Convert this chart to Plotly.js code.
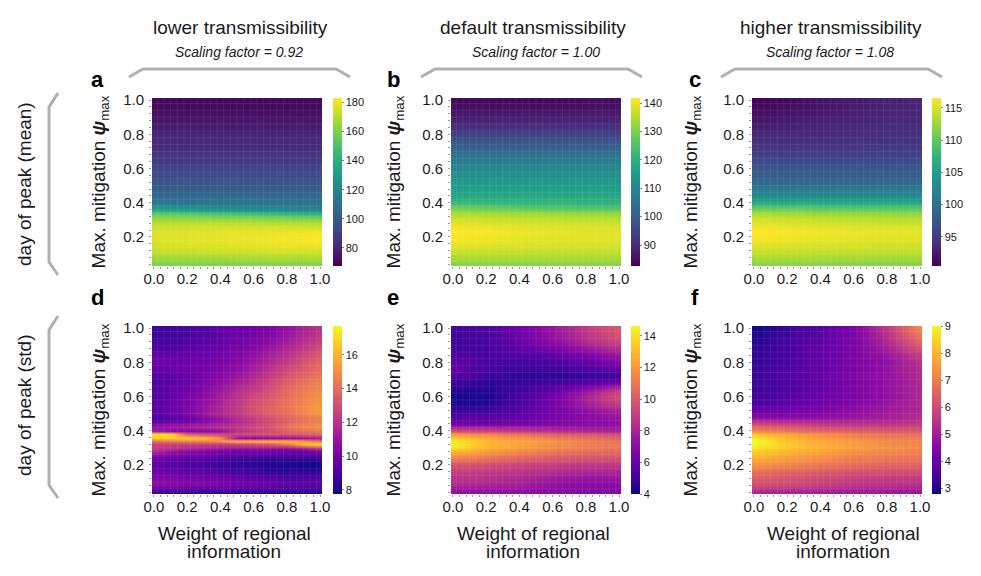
<!DOCTYPE html>
<html>
<head>
<meta charset="utf-8">
<script src="https://cdn.plot.ly/plotly-3.0.1.min.js"></script>
<style>html,body{margin:0;padding:0;background:#fff}</style>
</head>
<body>
<div id="chart" style="width:981px;height:576px"></div>
<script>
// Weight of regional information (x) and max. mitigation (y)
const xCoarse=[0,0.2,0.4,0.6,0.8,1];
const xFine=[0,0.1,0.2,0.3,0.4,0.5,0.6,0.7,0.8,0.9,1];
const yCoarse=[1,.96,.92,.88,.84,.8,.76,.72,.68,.64,.6,.56,.52,.48,.44,.42,.4,.38,.36,.34,.32,.3,.28,.24,.2,.16,.12,.08,.04];
const yFine=[1,.96,.92,.88,.84,.8,.76,.72,.68,.64,.6,.56,.52,.5,.48,.46,.44,.42,.4,.38,.36,.34,.32,.3,.28,.26,.24,.22,.2,.16,.12,.08,.04];

// day of peak (mean)
const zA=[
[70,70,70,70,70,70],
[71,71,71,71,71,71],
[73,73,73,73,73,73],
[75,75,75,75,75,75],
[77,77,77,77,77,77],
[79,79,79,79,79,79],
[81,81,81,81,81,81],
[83,83,83,83,83,83],
[86,86,86,86,86,86],
[88,88,88,88,88,88],
[91,91,91,91,91,91],
[94,94,94,94,94,94],
[98,98,98,98,98,98],
[102,102,102,102,102,102],
[107,107,107,107,107,107],
[110,110,110,110,109,109],
[114,114,113,113,112,112],
[124,121,119,117,116,115],
[138,134,130,126,124,122],
[152,150,147,144,142,138],
[160,159,158,157,155,153],
[166,166,165,165,163,162],
[172,172,172,172,171,170],
[176,177,178,178,179,179],
[177,178,179,180,182,183],
[176,177,178,179,180,181],
[173,174,175,175,176,176],
[167,168,168,169,169,169],
[160,160,160,161,161,161]];

const zB=[
[83.8,83.8,84,84,84.2,84.5],
[85,85,85.2,85.2,85.4,85.6],
[86.7,86.7,86.8,86.8,86.9,87],
[88.5,88.5,88.5,88.6,88.6,88.7],
[90.9,90.9,90.9,90.9,91,91],
[94.4,94.4,94.4,94.4,94.4,94.4],
[98,98,98,98,98,98],
[101.5,101.5,101.5,101.5,101.5,101.5],
[105,105,105,105,105,105],
[108,108,108,108,108,108],
[110.4,110.4,110.4,110.4,110.4,110.4],
[112.2,112.2,112.2,112.2,112.2,112.2],
[114,114,114,114,114,114],
[115.8,115.8,115.8,115.8,115.8,115.8],
[118.1,118.1,118.1,118.1,118.1,118.1],
[120,120,120,119.8,119.8,119.6],
[123,122.5,122,121.5,121,121],
[127,126,125,124.5,124,124],
[131,130,129,128.5,128,128],
[134,133.5,133,132.5,132,132],
[136,135.5,135,135,134.5,134],
[138,137.5,137,136.5,136,136],
[139.5,139,138.5,138,137.5,137.5],
[141.5,141,140,139.5,139,139],
[141.5,141,140,139.5,139.5,139.5],
[140,139.5,139,138.5,138.5,138.5],
[137.5,137,137,136.5,136.5,136.5],
[134.5,134.5,134.5,134.3,134.3,134.3],
[131,131,131,131,131,131]];

const zC=[
[90.5,91.2,91.8,92.4,92.8,93.1],
[91,91.6,92.1,92.6,93,93.2],
[91.6,92,92.4,92.8,93.1,93.3],
[92.1,92.4,92.8,93,93.3,93.5],
[92.6,92.9,93.1,93.4,93.6,93.7],
[93.2,93.4,93.6,93.8,93.9,94],
[93.9,94,94.2,94.3,94.4,94.5],
[94.6,94.7,94.8,94.9,95,95],
[95.4,95.4,95.5,95.6,95.7,95.7],
[96.4,96.4,96.4,96.5,96.5,96.6],
[97.5,97.5,97.5,97.5,97.5,97.5],
[98.3,98.3,98.3,98.3,98.3,98.3],
[99.3,99.3,99.3,99.3,99.3,99.3],
[101,101,101,101,101,101],
[103.2,103.2,103.2,103.2,103.2,103.2],
[104.6,104.6,104.6,104.5,104.5,104.5],
[106.6,106.6,106.5,106.4,106.3,106.3],
[109.2,109,108.8,108.6,108.5,108.4],
[111.3,111,110.8,110.6,110.5,110.4],
[112.9,112.6,112.3,112.1,112,112],
[114,113.7,113.4,113.2,113,113],
[114.9,114.6,114.3,114,113.9,113.9],
[115.6,115.3,115,114.8,114.6,114.6],
[116.4,116.1,115.8,115.6,115.4,115.4],
[116.4,116.1,115.8,115.6,115.5,115.5],
[115.5,115.3,115.1,115,114.9,114.9],
[114.5,114.4,114.3,114.2,114.1,114.1],
[113.2,113.2,113.1,113.1,113,113],
[111.8,111.8,111.8,111.7,111.7,111.7]];

// day of peak (std)
const zD=[
[8.7,8.7,9,9.2,9.5,9.7,9.9,10.2,10.8,11.5,12],
[8.7,8.8,9,9.2,9.5,9.8,10,10.4,11,11.6,12.2],
[8.8,8.9,9.1,9.3,9.6,9.9,10.2,10.7,11.3,11.9,12.5],
[9.2,9.2,9.4,9.6,9.8,10.1,10.5,11.1,11.6,12.3,13],
[9.6,9.6,9.7,9.8,10,10.3,10.8,11.4,12,12.7,13.5],
[9.8,9.8,9.8,9.9,10.1,10.5,11.1,11.7,12.3,13.1,13.8],
[9.6,9.7,9.8,10,10.3,10.7,11.4,12,12.8,13.4,14],
[9.2,9.4,9.6,10,10.5,11,11.7,12.4,13.2,13.8,14.3],
[9.2,9.4,9.8,10.2,10.7,11.4,12,12.7,13.6,14.2,14.6],
[9.2,9.4,9.8,10.4,11.1,11.7,12.4,13,13.9,14.4,14.8],
[9.2,9.5,10,10.6,11.3,12,12.8,13.3,14,14.6,15],
[9.4,9.7,10.2,10.8,11.5,12.2,13,13.6,14.2,14.7,15.2],
[9.3,9.6,10.2,10.9,11.6,12.3,13,13.7,14.2,14.8,15.4],
[9.4,9.8,10.3,11,11.6,12.2,12.9,13.6,14,14.7,15.2],
[9,9.3,9.8,10.6,11.2,12,12.6,13.2,13.8,14.3,14.8],
[8.9,9.2,9.6,10.2,10.8,11.5,12.2,12.8,13.5,14,14.5],
[10.5,10.8,11,11.2,11.6,12,12.6,13.2,14,14.6,15],
[10.8,10.9,11.2,11.5,11.9,12.2,12.8,13.2,14.2,14.6,15],
[11.2,10.8,10.6,10.5,10.8,12,12.6,13,13.6,14,14.4],
[17.4,17,13.5,13,12.6,12.6,12.8,13,13.2,13.4,13.6],
[16.5,16.8,16.8,16.6,15,10.8,10.6,10.6,10.8,11,11.3],
[14,14.3,14.5,14.5,15,16,16.2,16.2,16.4,15.2,14.2],
[12.6,12.5,12.5,12.5,12.5,12.7,13,13.4,14.5,16.5,17.2],
[12.3,12,11.7,11.4,11.2,11,11,11,11,11.5,12.5],
[11.8,11,10.7,10.4,10.2,10,10,9.9,9.8,9.9,10.2],
[10.6,10.2,10,9.8,9.6,9.4,9.3,9.2,9.2,9.2,9.3],
[9.8,9.6,9.4,9.3,9.1,8.9,8.8,8.7,8.6,8.6,8.7],
[9.6,9.4,9.2,9,8.8,8.6,8.4,8.3,8.2,8.1,8.1],
[9.5,9.3,9.1,8.9,8.7,8.5,8.3,8.1,8,7.9,7.8],
[9.9,9.8,9.6,9.4,9.2,9,8.8,8.6,8.5,8.5,8.5],
[10.4,10.4,10.2,10.1,9.9,9.7,9.5,9.4,9.2,9.2,9.2],
[10.6,10.5,10.4,10.3,10.2,10,9.9,9.8,9.6,9.5,9.5],
[8.6,8.6,8.5,8.4,8.4,8.3,8.3,8.2,8.2,8.2,8.2]];

const zE=[
[5.2,5.4,6.2,7.4,8.8,10],
[5,5.3,6.2,7.4,8.6,9.8],
[5,5.2,6,7,8.2,9.2],
[5.2,5.2,5.8,6.4,7.4,8.4],
[5.6,5.3,5.4,5.8,6.6,7.5],
[6,5.3,5.1,5.3,5.9,6.8],
[6,5.1,4.9,4.9,5.3,5.9],
[5.6,5,4.7,4.7,4.8,5],
[5,4.7,4.8,5.2,5.6,6.6],
[4.5,4.5,5,5.9,7.2,8.8],
[4.2,4.3,5.2,6.3,8,9.6],
[4.4,4.5,5.3,6.4,7.8,9],
[4.9,5,5.5,6.4,7.3,8],
[5.6,5.7,5.9,6.5,7,7.4],
[6.4,6.4,6.5,6.8,7,7.2],
[8,8,7.8,7.6,7.6,7.6],
[9.6,9.2,8.8,8.4,8.2,8],
[12,11.4,10.8,10.2,9.8,9.4],
[13.4,12.6,12,11.3,10.8,10.4],
[14.2,13,12.4,11.8,11.2,10.8],
[14.5,13,12.4,11.8,11.3,11],
[14,12.8,12.2,11.6,11.1,10.9],
[13,12.2,11.6,11.1,10.7,10.6],
[11.4,10.9,10.4,10,9.8,9.7],
[9.7,9.5,9.2,8.9,8.7,8.7],
[9,8.8,8.6,8.3,8,8],
[8.6,8.4,8.1,7.6,7.3,7.4],
[8.2,8,7.8,7.3,7,7],
[7.2,7.2,7.1,7,6.8,6.8]];

const zF=[
[2.8,3.3,3.7,4.3,5.6,7.2],
[3,3.4,3.8,4.3,5.4,6.9],
[3.1,3.5,3.9,4.3,5.2,6.5],
[3.2,3.5,3.9,4.3,5,6.1],
[3.2,3.5,3.9,4.3,4.8,5.7],
[3.2,3.5,3.9,4.3,4.7,5.4],
[3.3,3.6,3.9,4.3,4.7,5.3],
[3.3,3.6,3.9,4.3,4.7,5.3],
[3.3,3.6,3.9,4.3,4.7,5.2],
[3.3,3.6,3.9,4.3,4.7,5.2],
[3.4,3.7,4,4.3,4.7,5.2],
[3.6,3.8,4.1,4.4,4.8,5.2],
[4,4.1,4.3,4.6,4.9,5.2],
[4.5,4.5,4.6,4.8,5,5.3],
[6,5.8,5.6,5.5,5.5,5.6],
[6.6,6.3,6,5.9,5.9,5.9],
[7.2,6.9,6.6,6.4,6.3,6.3],
[8.2,7.7,7.3,7,6.8,6.7],
[8.8,8,7.6,7.3,7,7],
[9,8.2,7.8,7.5,7.2,7.1],
[9,8.3,7.9,7.6,7.3,7.2],
[8.8,8.2,7.9,7.6,7.3,7.2],
[8.4,8,7.7,7.4,7.2,7.1],
[7.9,7.6,7.3,7,6.9,6.8],
[7.4,7.1,6.9,6.7,6.5,6.5],
[6.7,6.5,6.3,6.1,6,6],
[6.3,6.1,5.9,5.7,5.6,5.6],
[6,5.9,5.7,5.5,5.4,5.3],
[5.1,5.1,5,4.9,4.9,4.8]];

// colorbar ends and tick values
const zRange=[[67.6,183],[82.6,141.8],[90.5,116.5],[7.76,17.7],[4,14.63],[2.78,9]];
const cbarTicks=[[80,100,120,140,160,180],[90,100,110,120,130,140],[95,100,105,110,115],[8,10,12,14,16],[4,6,8,10,12,14],[3,4,5,6,7,8,9]];

const columnTitles=['lower transmissibility','default transmissibility','higher transmissibility'];
const scalingFactors=['0.92','1.00','1.08'];
const rowTitles=['day of peak (mean)','day of peak (std)'];
const panelLetters=['a','b','c','d','e','f'];
const axisTicks=[0,0.2,0.4,0.6,0.8,1];
const axisTickText=['0.0','0.2','0.4','0.6','0.8','1.0'];
const yTicks=[0.2,0.4,0.6,0.8,1];
const yTickText=['0.2','0.4','0.6','0.8','1.0'];

const viridis=['#440154','#482878','#3e4989','#31688e','#26828e','#1f9e89','#35b779','#6ece58','#b5de2b','#fde725'];
const plasma=['#0d0887','#41049d','#6a00a8','#8f0da4','#b12a90','#cc4778','#e16462','#f2844b','#fca636','#fcce25','#f0f921'];
function toScale(cols) {
    return cols.map((c,i)=>[i/(cols.length-1),c]);
}

// Layout in pixels
const W=981, H=576;
const lefts=[152,451,752], tops=[98,326], panelW=170, panelH=168;
const cbarLefts=[333,631,932];
const ytitleStandoff=[12,16,20];
const letterX=[97,393,695];
const weightX=[234,533,843];
const font='"Liberation Sans", Arial, sans-serif';
const ink='#1a1a1a';

function px(x) {return x/W;}
function py(y) {return 1-y/H;}

let traces=[];
let layout={
    width:W, height:H,
    margin:{l:0,r:0,t:0,b:0,autoexpand:false},
    paper_bgcolor:'#fff', plot_bgcolor:'#fff',
    font:{family:font,color:ink},
    showlegend:false,
    annotations:[], shapes:[]
};

function label(text,x,y,size,angle) {
    layout.annotations.push({text:text,xref:'paper',yref:'paper',showarrow:false,
        xanchor:'center',yanchor:'middle',x:px(x),y:py(y),textangle:angle||0,font:{size:size,color:ink}});
}

const panels=[[xCoarse,yCoarse,zA],[xCoarse,yCoarse,zB],[xCoarse,yCoarse,zC],[xFine,yFine,zD],[xCoarse,yCoarse,zE],[xCoarse,yCoarse,zF]];
panels.forEach(function(p,i) {
    let col=i%3, row=Math.floor(i/3), n=i+1;
    let sfx=n==1?'':String(n);
    traces.push({
        type:'heatmap', x:p[0], y:p[1], z:p[2],
        xaxis:'x'+sfx, yaxis:'y'+sfx,
        zmin:zRange[i][0], zmax:zRange[i][1], zsmooth:'best',
        colorscale:toScale(row==0?viridis:plasma),
        hoverinfo:'skip',
        colorbar:{
            x:px(cbarLefts[col]), xanchor:'left', xpad:0,
            y:py(tops[row]+panelH/2), yanchor:'middle', ypad:0,
            len:panelH, lenmode:'pixels', thickness:9, thicknessmode:'pixels',
            outlinewidth:0, tickvals:cbarTicks[i], ticks:'outside', ticklen:2,
            tickcolor:'#888', tickwidth:1, tickfont:{size:11,color:ink}
        }
    });
    layout['xaxis'+sfx]={
        domain:[px(lefts[col]),px(lefts[col]+panelW)],
        anchor:'y'+sfx, range:[-0.012,1.012], zeroline:false, showgrid:false, showline:false,
        tickvals:axisTicks, ticktext:axisTickText, ticks:'outside', ticklen:2, tickcolor:'#999',
        minor:{dtick:0.04,tick0:0,ticks:'outside',ticklen:2,tickcolor:'#999'},
        ticklabelstandoff:-3,
        tickfont:{size:15,color:ink}
    };
    layout['yaxis'+sfx]={
        domain:[py(tops[row]+panelH),py(tops[row])],
        anchor:'x'+sfx, range:[0.03,1.012], zeroline:false, showgrid:false, showline:false,
        tickvals:yTicks, ticktext:yTickText, ticks:'outside', ticklen:2, tickcolor:'#999',
        minor:{dtick:0.04,tick0:0,ticks:'outside',ticklen:2,tickcolor:'#999'},
        ticklabelstandoff:2,
        tickfont:{size:15,color:ink},
        title:{text:'Max. mitigation <b><i>\u03C8</i></b><sub>max</sub>',font:{size:19,color:ink},standoff:ytitleStandoff[col]}
    };
    if (row==1) {
        label('Weight of regional',weightX[col],533,19);
        label('information',weightX[col],551,19);
    }
    // panel letter
    layout.annotations.push({
        text:'<b>'+panelLetters[i]+'</b>', xref:'paper', yref:'paper', showarrow:false,
        xanchor:'center', yanchor:'middle',
        x:px(letterX[col]), y:py(row==0?79:297), font:{size:22,color:'#000'}
    });
    // faint seams running through the heatmap
    for (let k=0;k<=25;k++) {
        let v=k*0.04;
        layout.shapes.push({type:'line',xref:'x'+sfx,yref:'y'+sfx,x0:v-0.02,x1:v-0.02,y0:0.03,y1:1.012,
            line:{color:'rgba(255,255,255,0.07)',width:1}});
        layout.shapes.push({type:'line',xref:'x'+sfx,yref:'y'+sfx,x0:-0.012,x1:1.012,y0:v+0.02,y1:v+0.02,
            line:{color:'rgba(255,255,255,0.07)',width:1}});
    }
});

// column headers and their brackets
const headX=[240,533,831], subX=[239,536,830], bracketX=[129,421,721];
columnTitles.forEach(function(t,i) {
    label(t,headX[i],27,19);
    label('<i>Scaling factor = '+scalingFactors[i]+'</i>',subX[i],52,14);
    let b=bracketX[i];
    layout.shapes.push({type:'path',xref:'paper',yref:'paper',
        path:'M'+px(b)+' '+py(77)+' L'+px(b+14)+' '+py(69)+' L'+px(b+207)+' '+py(69)+' L'+px(b+221)+' '+py(77),
        line:{color:'#b0b0b0',width:3}});
});

// row headers and their brackets
const rowY=[184,405], bracketY=[93,316];
rowTitles.forEach(function(t,i) {
    label(t,24,rowY[i],19,-90);
    let b=bracketY[i];
    layout.shapes.push({type:'path',xref:'paper',yref:'paper',
        path:'M'+px(58)+' '+py(b)+' L'+px(49)+' '+py(b+14)+' L'+px(49)+' '+py(b+169)+' L'+px(58)+' '+py(b+182),
        line:{color:'#b0b0b0',width:3}});
});

Plotly.newPlot('chart',traces,layout,{displayModeBar:false,staticPlot:true});
</script>
</body>
</html>
